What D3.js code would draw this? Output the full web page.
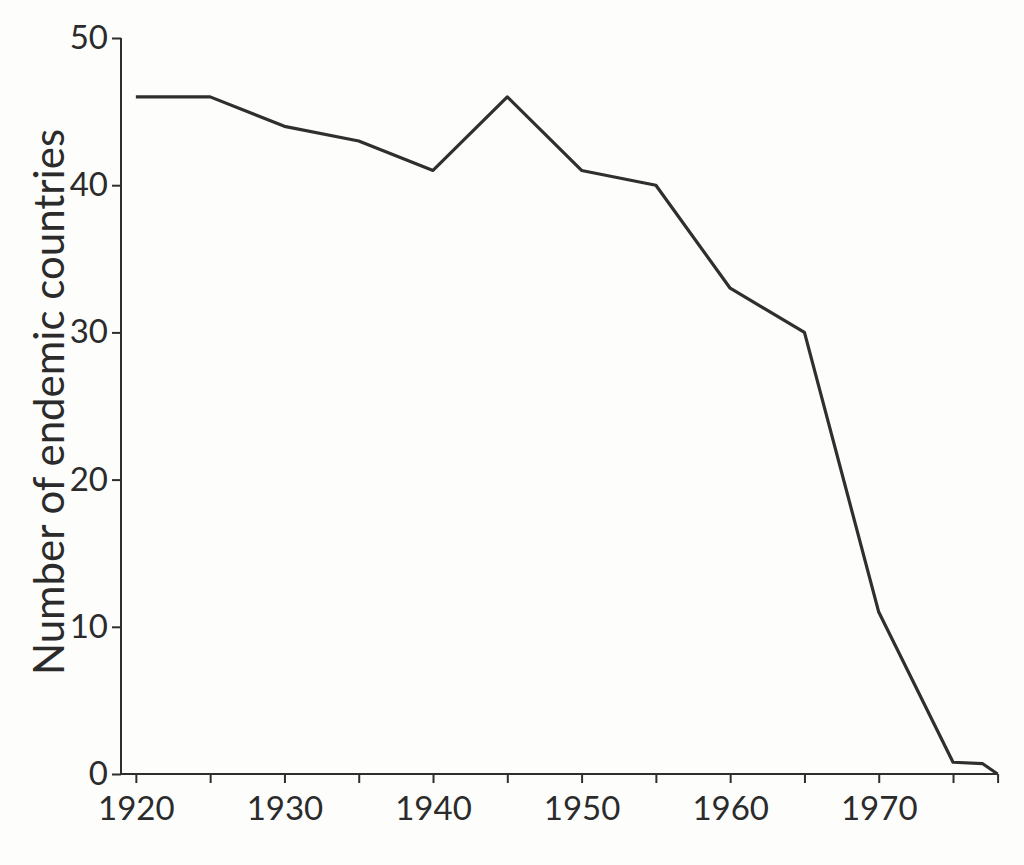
<!DOCTYPE html>
<html>
<head>
<meta charset="utf-8">
<script src="https://cdn.jsdelivr.net/npm/d3@7"></script>
<style>
  html, body { margin: 0; padding: 0; background: #fdfdfc; }
  svg { display: block; }
  text { font-family: Lato, "Open Sans", sans-serif; fill: #2b2b2b; }
</style>
</head>
<body>
<svg id="chart" width="1024" height="865"></svg>
<script>
// Data
const years  = [1920, 1925, 1930, 1935, 1940, 1945, 1950, 1955, 1960, 1965, 1970, 1975, 1977, 1978];
const counts = [46,   46,   44,   43,   41,   46,   41,   40,   33,   30,   11,   0.8,  0.7,  0];
const xTicks = [1920, 1925, 1930, 1935, 1940, 1945, 1950, 1955, 1960, 1965, 1970, 1975, 1978];
const xTickLabels = [1920, 1930, 1940, 1950, 1960, 1970];
const yTicks = [0, 10, 20, 30, 40, 50];
const yTitle = "Number of endemic countries";

const svg = d3.select("#chart");
const ink = "#2e2e2e";

const x = d3.scaleLinear().domain([1919, 1978]).range([121, 997.6]);
const y = d3.scaleLinear().domain([0, 50]).range([774, 38]);

// X axis
const xAxis = d3.axisBottom(x)
  .tickValues(xTicks)
  .tickSize(9)
  .tickPadding(14)
  .tickFormat(d => xTickLabels.includes(d) ? String(d) : "");
const gx = svg.append("g").attr("transform", `translate(0,${y(0)})`).call(xAxis);
gx.select(".domain").attr("stroke", ink).attr("stroke-width", 2).attr("d", `M${x(1919)},0H${x(1978)}`);
gx.selectAll(".tick line").attr("stroke", ink).attr("stroke-width", 2);
gx.selectAll(".tick text").attr("font-size", 33).attr("fill", "#2b2b2b")
  .attr("font-family", "Lato, 'Open Sans', sans-serif");

// Y axis
const yAxis = d3.axisLeft(y)
  .tickValues(yTicks)
  .tickSize(9)
  .tickPadding(4)
  .tickFormat(d3.format("d"));
const gy = svg.append("g").attr("transform", `translate(${x(1919)},0)`).call(yAxis);
gy.select(".domain").attr("stroke", ink).attr("stroke-width", 2).attr("d", `M0,${y(50)}V${y(0)}`);
gy.selectAll(".tick line").attr("stroke", ink).attr("stroke-width", 2);
gy.selectAll(".tick text").attr("font-size", 33).attr("fill", "#2b2b2b")
  .attr("font-family", "Lato, 'Open Sans', sans-serif");

// Y title
svg.append("text")
  .attr("transform", `translate(64,402) rotate(-90)`)
  .attr("text-anchor", "middle")
  .attr("font-size", 42)
  .text(yTitle);

// Line
const line = d3.line()
  .x((d, i) => x(years[i]))
  .y(d => y(d));
svg.append("path")
  .datum(counts)
  .attr("fill", "none")
  .attr("stroke", "#2f2f2f")
  .attr("stroke-width", 3.2)
  .attr("stroke-linejoin", "round")
  .attr("d", line);
</script>
</body>
</html>
